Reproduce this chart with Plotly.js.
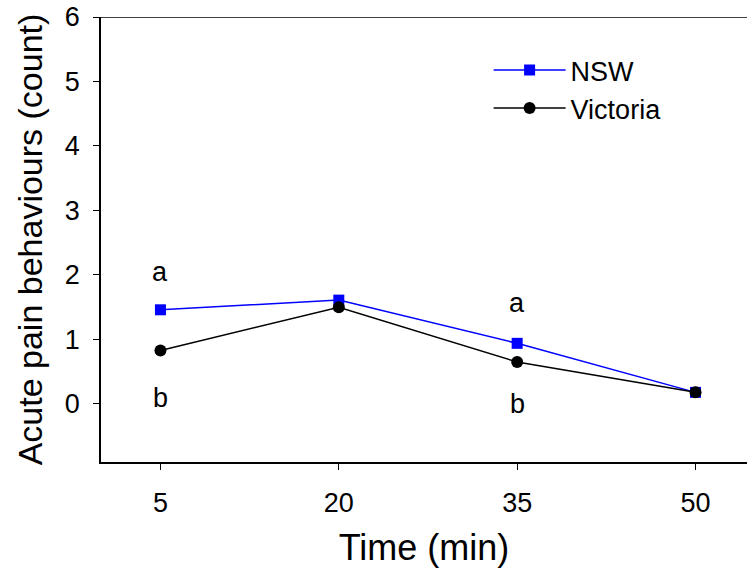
<!DOCTYPE html>
<html>
<head>
<meta charset="utf-8">
<script src="https://cdn.plot.ly/plotly-3.0.1.min.js"></script>
<style>html,body{margin:0;padding:0;background:#fff;}#chart{width:747px;height:574px;}</style>
</head>
<body>
<div id="chart"></div>
<script>
const timeMin = [5, 20, 35, 50];
const nsw = [1.46, 1.61, 0.94, 0.18];
const victoria = [0.83, 1.50, 0.65, 0.18];
const xTicks = [5, 20, 35, 50];
const yTicks = [0, 1, 2, 3, 4, 5, 6];
const letterX = [5, 5, 35, 35];
const letterY = [2.05, 0.1, 1.57, 0.0];
const letterText = ['a', 'b', 'a', 'b'];

const FONT = 'Liberation Sans, Arial, Helvetica, sans-serif';

const traces = [
  {x: timeMin, y: nsw, name: 'NSW', type: 'scatter', mode: 'lines+markers',
   line: {color: '#0000ff', width: 1.5}, marker: {symbol: 'square', size: 11, color: '#0000ff'}},
  {x: timeMin, y: victoria, name: 'Victoria', type: 'scatter', mode: 'lines+markers',
   line: {color: '#000000', width: 1.5}, marker: {symbol: 'circle', size: 12, color: '#000000'}}
];

const annotations = letterText.map((t, i) => ({
  x: letterX[i], y: letterY[i], xref: 'x', yref: 'y', text: t, showarrow: false,
  font: {family: FONT, size: 27, color: '#000'}
}));

const layout = {
  width: 747, height: 574,
  margin: {l: 101, r: 0, t: 17, b: 112, pad: 0},
  paper_bgcolor: '#fff', plot_bgcolor: '#fff',
  font: {family: FONT, color: '#000'},
  showlegend: true,
  legend: {x: 0.6, y: 0.935, xanchor: 'left', yanchor: 'top', bgcolor: 'rgba(0,0,0,0)',
           font: {family: FONT, size: 27}, itemwidth: 72, tracegroupgap: 0},
  xaxis: {range: [0, 54.33], tickvals: xTicks, ticktext: xTicks.map(String),
          showgrid: false, zeroline: false, showline: true, linecolor: '#000', linewidth: 1.5,
          ticks: 'outside', ticklen: 6, tickcolor: '#000', tickwidth: 1,
          tickfont: {family: FONT, size: 27}, ticklabelstandoff: 10,
          title: {text: 'Time (min)', font: {family: FONT, size: 36}, standoff: 18}},
  yaxis: {range: [-0.9, 6], tickvals: yTicks, ticktext: yTicks.map(String),
          showgrid: false, zeroline: false, showline: true, linecolor: '#000', linewidth: 1.5,
          ticks: 'outside', ticklen: 6, tickcolor: '#000', tickwidth: 1,
          tickfont: {family: FONT, size: 27}, ticklabelstandoff: 8,
          title: {text: 'Acute pain behaviours (count)', font: {family: FONT, size: 34}, standoff: 12}},
  shapes: [{type: 'line', xref: 'paper', yref: 'y', x0: 0, x1: 1, y0: 6, y1: 6,
            line: {color: '#000', width: 1.5}}],
  annotations: annotations
};

Plotly.newPlot('chart', traces, layout, {displayModeBar: false, responsive: false});
</script>
</body>
</html>
